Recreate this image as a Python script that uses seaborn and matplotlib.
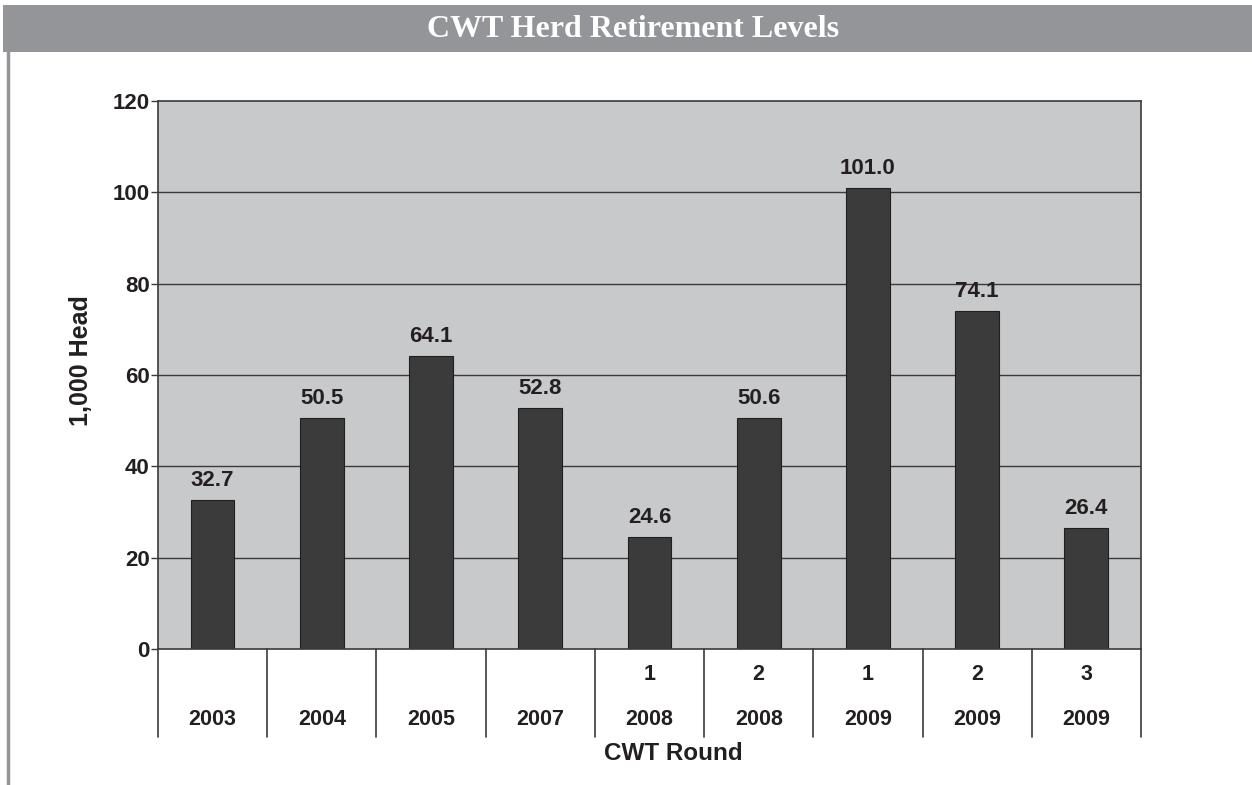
import matplotlib.pyplot as plt
import matplotlib.patches as patches
import numpy as np
import pandas as pd
import seaborn as sns

rounds = ['', '', '', '', '1', '2', '1', '2', '3']
years = ['2003', '2004', '2005', '2007', '2008', '2008', '2009', '2009', '2009']
head = [32.7, 50.5, 64.1, 52.8, 24.6, 50.6, 101.0, 74.1, 26.4]
y_ticks = [0, 20, 40, 60, 80, 100, 120]

df = pd.DataFrame({'pos': range(len(head)), 'head': head})

sns.set_style('white')
plt.rcParams['font.family'] = ['Liberation Sans', 'DejaVu Sans']

fig = plt.figure(figsize=(12.52, 7.85), dpi=100)
ax = fig.add_axes([0.1262, 0.1732, 0.7851, 0.6981])

# title banner and left border
fig.patches.append(patches.Rectangle((0.0025, 0.934), 0.9975, 0.06, transform=fig.transFigure,
                                     facecolor='#939598', edgecolor='none', zorder=0))
fig.add_artist(plt.Line2D([0.0065, 0.0065], [0.0, 0.934], transform=fig.transFigure,
                          color='#939598', lw=2.5))
fig.text(0.5055, 0.963, 'CWT Herd Retirement Levels', ha='center', va='center', color='white',
         fontsize=23, fontweight='bold', family=['Liberation Serif', 'DejaVu Serif'])

ax.set_facecolor('#c8c9cb')
for y in y_ticks[1:-1]:
    ax.axhline(y, color='#3a3a3a', lw=1.0, zorder=1)

sns.barplot(data=df, x='pos', y='head', ax=ax, color='#3b3b3b', width=0.4,
            saturation=1, edgecolor='#1f1f1f', linewidth=0.8, zorder=2, native_scale=True)

for p, v in zip(df['pos'], head):
    ax.text(p, v + 2, f'{v:.1f}', ha='center', va='bottom', fontsize=16,
            fontweight='bold', color='#231f20')

ax.set_xlim(-0.5, len(head) - 0.5)
ax.set_ylim(0, 120)
ax.set_yticks(y_ticks)
ax.set_yticklabels([str(t) for t in y_ticks], fontsize=16, fontweight='bold', color='#231f20')
ax.tick_params(axis='y', which='both', left=True, length=5, width=1, color='#3a3a3a', pad=1)
ax.set_xticks([])
ax.set_xlabel('')
ax.set_ylabel('1,000 Head', fontsize=18, fontweight='bold', color='#231f20')
ax.yaxis.set_label_coords(-0.066, 0.527)
for s in ax.spines.values():
    s.set_color('#3a3a3a')
    s.set_linewidth(1.2)

# category table below the axis
trans = ax.get_xaxis_transform()
for b in np.arange(-0.5, len(head), 1.0):
    ax.plot([b, b], [0, -0.16], transform=trans, color='#3a3a3a', lw=1.2, clip_on=False)
for p, r, yr in zip(df['pos'], rounds, years):
    ax.text(p, -0.047, r, transform=trans, ha='center', va='center', fontsize=15.5,
            fontweight='bold', color='#231f20')
    ax.text(p, -0.129, yr, transform=trans, ha='center', va='center', fontsize=15.5,
            fontweight='bold', color='#231f20')
ax.text(0.524, -0.19, 'CWT Round', transform=ax.transAxes, ha='center', va='center',
        fontsize=17.5, fontweight='bold', color='#231f20')

plt.savefig('out.png', dpi=100)
